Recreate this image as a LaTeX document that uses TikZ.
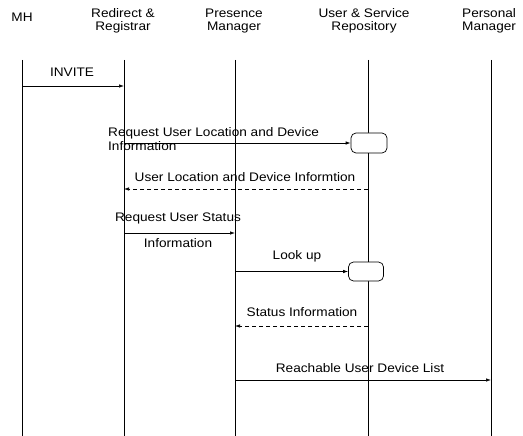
\documentclass[tikz,border=0pt]{standalone}
\usepackage{fontspec}
\setmainfont{Liberation Sans}[FakeStretch=1.1]
\usetikzlibrary{arrows.meta}

\begin{document}
\begin{tikzpicture}[x=1pt,y=-1pt,
        font=\fontsize{12.4}{13.5}\selectfont,
        head/.style={align=center, inner sep=0pt},
        lbl/.style={inner sep=0pt},
        msg/.style={line width=0.7pt, -{Latex[length=5pt,width=3.5pt]}},
        reply/.style={msg, dash pattern=on 4pt off 3pt},
        proc/.style={rectangle, rounded corners=5pt, draw, line width=0.7pt, fill=white, inner sep=0pt}]
    \useasboundingbox (0,0) rectangle (523,436);
    \node[head] (mh) at (22,17) {MH};
    \node[head] (rr) at (123,21) {Redirect \&\\Registrar};
    \node[head] (pm) at (234,21) {Presence\\Manager};
    \node[head] (usr) at (364,21) {User \& Service\\Repository};
    \node[head, anchor=west, align=left] (pem) at (462,21) {Personal\\Manager};
    \foreach \n/\x in {mh/22,rr/124,pm/235,usr/368,pem/491} {
        \coordinate (\n-top) at (\x,60);
        \coordinate (\n-bot) at (\x,436);
        \draw[line width=0.6pt] (\n-top) -- (\n-bot);
    }
    \node[lbl] (invite) at (72,72) {INVITE};
    \draw[msg] (mh-top |- 0,86) -- (rr-top |- 0,86);
    \node[proc, minimum width=36pt, minimum height=20pt] (look1) at (369,143) {};
    \node[lbl, anchor=west, align=left] (req1) at (108,139) {Request User Location and Device\\Information};
    \draw[msg] (rr-top |- look1) -- (look1.west);
    \node[lbl] (loc) at (245,177) {User Location and Device Informtion};
    \draw[reply] (usr-top |- 0,189) -- (rr-top |- 0,189);
    \node[lbl] (req2) at (178,218) {Request User Status};
    \draw[msg] (rr-top |- 0,233) -- (pm-top |- 0,233);
    \node[lbl] (info) at (178,243) {Information};
    \node[proc, minimum width=35pt, minimum height=19pt] (look2) at (366,271.5) {};
    \node[lbl] (lookup) at (297,256) {Look up};
    \draw[msg] (pm-top |- look2) -- (look2.west);
    \node[lbl] (stat) at (302,312) {Status Information};
    \draw[reply] (usr-top |- 0,326) -- (pm-top |- 0,326);
    \node[lbl] (reach) at (360,368) {Reachable User Device List};
    \draw[msg] (pm-top |- 0,380) -- (pem-top |- 0,380);
\end{tikzpicture}
\end{document}
